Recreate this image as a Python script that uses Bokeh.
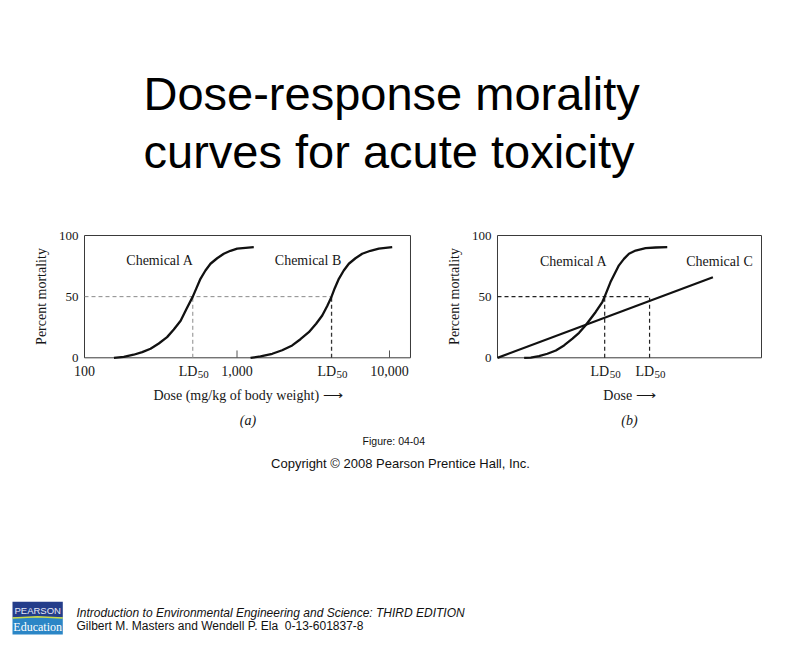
from bokeh.plotting import figure
from bokeh.layouts import column, row
from bokeh.models import Range1d, FixedTicker, LinearAxis
from bokeh.core.properties import value
from bokeh.embed import file_html
from bokeh.resources import INLINE

# ---------------- data ----------------
# panel (a): log dose axis (mg/kg of body weight)
dose_a = [156, 181, 210, 239, 271, 307, 348, 385, 427, 467, 513, 543, 576, 621, 670,
          741, 819, 906, 1003, 1137, 1288]
mort_a = [0, 0.8, 2.5, 4.6, 7.4, 11.7, 16.9, 23.1, 30.3, 40.1, 50, 57.2, 64.6, 71.4, 76.9,
          81.4, 85.1, 87.5, 89.2, 89.9, 90.5]
dose_b = [1227, 1426, 1703, 1977, 2302, 2606, 2958, 3302, 3622, 3898, 4169, 4375, 4655,
          5012, 5411, 5982, 6622, 7500, 8511, 9409, 10418]
mort_b = [0, 1.1, 3.3, 6.2, 10.1, 15.2, 20.9, 27.8, 34.6, 42.2, 50, 56.9, 64.6,
          71.4, 76.9, 81.4, 85.1, 87.5, 89.2, 89.9, 90.5]
ld50_a = 513
ld50_b = 4169
ticks_a = [100, 1000, 10000]
tick_labels_a = ["100", "1,000", "10,000"]
dose_limits_a = [100, 13729]          # plotted dose range of panel (a)
y_ticks = [0, 50, 100]
y_tick_labels = ["0", "50", "100"]
mort_limits = [0, 100]

# panel (b): linear dose axis (arbitrary units)
dose_a2 = [10.1, 12.6, 15.7, 18.9, 22.1, 25.2, 28.4, 30.9, 33.4, 37.2, 39.7, 40.6, 42.8,
           46.0, 47.9, 49.8, 52.3, 56.1, 59.9, 64.3]
mort_a2 = [0, 0.2, 1.3, 3.3, 6.0, 10.1, 15.6, 20.4, 26.6, 37.5, 45.6, 50, 61.9,
           75.6, 80.9, 85.1, 87.7, 89.7, 90.2, 90.5]
dose_c = [0, 81.6]
mort_c = [0, 65.9]
ld50_a2 = 40.6
ld50_c = 57.6
dose_limits_b = [0, 100]

SERIF = "Liberation Serif"
SANS = "Liberation Sans"
INK = "#161616"
BOX = "#3a3a3a"

# vertical layout of the chart frames: box 0..100 spans 122.3 px
PX_PER_PCT = 1.223
Y_LO = -26.7 / PX_PER_PCT     # room for the dose tick labels under the box
Y_HI = 100 + 27 / PX_PER_PCT  # symmetric room above, keeps the y label centred


def style_chart(p, x0, x1, pad_left):
    p.xgrid.visible = False
    p.ygrid.visible = False
    p.outline_line_color = None
    p.background_fill_color = "white"
    p.border_fill_color = "white"
    # the box around the data area
    p.line([x0, x1, x1, x0, x0],
           [mort_limits[0], mort_limits[0], mort_limits[1], mort_limits[1], mort_limits[0]],
           line_color=BOX, line_width=1, line_join="miter")
    ya = p.yaxis[0]
    ya.ticker = FixedTicker(ticks=y_ticks)
    ya.major_label_overrides = {t: l for t, l in zip(y_ticks, y_tick_labels)}
    ya.major_tick_in = 0
    ya.major_tick_out = 0
    ya.minor_tick_line_color = None
    ya.axis_line_color = None
    ya.major_label_text_font = SERIF
    ya.major_label_text_font_size = "13px"
    ya.major_label_text_color = INK
    ya.major_label_standoff = 6 - pad_left
    ya.axis_label = "Percent mortality"
    ya.axis_label_text_font = SERIF
    ya.axis_label_text_font_size = "14px"
    ya.axis_label_text_font_style = "normal"
    ya.axis_label_text_color = INK
    ya.axis_label_standoff = 7
    xa = p.xaxis[0]
    xa.ticker = FixedTicker(ticks=[])
    xa.major_tick_in = 0
    xa.major_tick_out = 0
    xa.major_label_standoff = 0
    xa.minor_tick_line_color = None
    xa.axis_line_color = None
    xa.axis_label_text_font = SERIF
    xa.axis_label_text_font_size = "14px"
    xa.axis_label_text_font_style = "normal"
    xa.axis_label_text_color = INK
    xa.axis_label_standoff = 3


def sub_axis(p, text):
    ax = LinearAxis(ticker=FixedTicker(ticks=[]), axis_label=text)
    ax.axis_line_color = None
    ax.major_tick_line_color = None
    ax.minor_tick_line_color = None
    ax.major_label_standoff = 0
    ax.major_tick_out = 0
    ax.major_tick_in = 0
    ax.axis_label_text_font = SERIF
    ax.axis_label_text_font_size = "14px"
    ax.axis_label_text_font_style = "italic"
    ax.axis_label_text_color = INK
    ax.axis_label_standoff = 7
    p.add_layout(ax, "below")


def ld_labels(p, xs):
    p.text(x=xs, y=[-11] * len(xs), text=["LD"] * len(xs), text_align="right",
           text_baseline="middle", x_offset=4.5, text_font=value(SERIF),
           text_font_size="14px", text_color=INK)
    p.text(x=xs, y=[-13.9] * len(xs), text=["50"] * len(xs), text_align="left",
           text_baseline="middle", x_offset=5, text_font=value(SERIF),
           text_font_size="11px", text_color=INK)


# ---------------- title ----------------
pt = figure(width=793, height=208, x_range=Range1d(0, 793), y_range=Range1d(208, 0),
            output_backend="svg", toolbar_location=None, min_border=0, title=None,
            x_axis_location=None, y_axis_location=None)
pt.grid.visible = False
pt.outline_line_color = None
pt.text(x=[143, 143], y=[93.4, 150.7],
        text=["Dose-response morality", "curves for acute toxicity"],
        text_font=value(SANS), text_font_size="47px", text_baseline="middle",
        text_align="left", text_color="#000000")

# ---------------- panel (a) ----------------
px_per_decade = 152.5
pad_a = 13   # px of frame each side of the box, so the "100" label is not clipped
box_px_a = 327
pa = figure(width=428, height=225, x_axis_type="log",
            x_range=Range1d(100 * 10 ** (-pad_a / px_per_decade),
                            100 * 10 ** ((box_px_a + pad_a) / px_per_decade)),
            y_range=Range1d(Y_LO, Y_HI), title=None,
            output_backend="svg", toolbar_location=None,
            min_border_left=84 - pad_a, min_border_right=428 - (84 - pad_a) - (box_px_a + 2 * pad_a),
            min_border_top=0, min_border_bottom=49)
style_chart(pa, dose_limits_a[0], dose_limits_a[1], pad_a)
pa.xaxis[0].axis_label = "Dose (mg/kg of body weight) \u27f6"
sub_axis(pa, "(a)")

pa.segment(x0=ticks_a[1:], y0=[0, 0], x1=ticks_a[1:], y1=[6, 6], line_color="#555555", line_width=1)
pa.text(x=ticks_a, y=[-10.4] * len(ticks_a), text=tick_labels_a, text_align="center",
        text_baseline="middle", text_font=value(SERIF), text_font_size="14px", text_color=INK)
ld_labels(pa, [ld50_a, ld50_b])
pa.line([dose_limits_a[0], ld50_b], [50, 50], line_dash="4 3", line_color="#8a8a8a", line_width=1)
pa.line([ld50_a, ld50_a], [0, 50], line_dash="4 3", line_color="#8a8a8a", line_width=1)
pa.line([ld50_b, ld50_b], [0, 50], line_dash="4 3", line_color="#333333", line_width=1.3)
pa.line(dose_a, mort_a, line_color="#111111", line_width=2.3, line_join="round")
pa.line(dose_b, mort_b, line_color="#111111", line_width=2.3, line_join="round")
pa.text(x=[188, 1770], y=[79.6, 79.6], text=["Chemical A", "Chemical B"],
        text_font=value(SERIF), text_font_size="14px", text_baseline="middle",
        text_align="left", text_color=INK)

# ---------------- panel (b) ----------------
u_per_px = 100 / 264.3
pb = figure(width=365, height=225, x_range=Range1d(-u_per_px, 100 + u_per_px),
            y_range=Range1d(Y_LO, Y_HI), title=None,
            output_backend="svg", toolbar_location=None,
            min_border_left=68, min_border_right=31, min_border_top=0, min_border_bottom=49)
style_chart(pb, dose_limits_b[0], dose_limits_b[1], 1)
pb.xaxis[0].axis_label = "Dose \u27f6"
sub_axis(pb, "(b)")
ld_labels(pb, [ld50_a2, ld50_c])

pb.line([dose_limits_b[0], ld50_c], [50, 50], line_dash="4 3", line_color="#222222", line_width=1.2)
pb.line([ld50_a2, ld50_a2], [0, 50], line_dash="4 3", line_color="#222222", line_width=1.2)
pb.line([ld50_c, ld50_c], [0, 50], line_dash="4 3", line_color="#222222", line_width=1.2)
pb.line(dose_c, mort_c, line_color="#111111", line_width=2.3)
pb.line(dose_a2, mort_a2, line_color="#111111", line_width=2.3, line_join="round")
pb.text(x=[16.1, 71.5], y=[78.7, 78.7], text=["Chemical A", "Chemical C"],
        text_font=value(SERIF), text_font_size="14px", text_baseline="middle",
        text_align="left", text_color=INK)

# ---------------- bottom: caption, footer, logo ----------------
pf = figure(width=793, height=215, x_range=Range1d(0, 793), y_range=Range1d(215, 0),
            output_backend="svg", toolbar_location=None, min_border=0, title=None,
            x_axis_location=None, y_axis_location=None)
pf.grid.visible = False
pf.outline_line_color = None
pf.text(x=[393.3], y=[7.3], text=["Figure: 04-04"], text_font=value(SANS),
        text_font_size="10.5px", text_align="center", text_baseline="middle", text_color="#111111")
pf.text(x=[400], y=[30.3], text=["Copyright \u00a9 2008 Pearson Prentice Hall, Inc."],
        text_font=value(SANS), text_font_size="13px", text_align="center",
        text_baseline="middle", text_color="#111111")
# logo
pf.quad(left=[12], right=[62.3], top=[168.3], bottom=[184], fill_color="#243d8a", line_color=None)
pf.quad(left=[12], right=[62.3], top=[184], bottom=[201], fill_color="#2b86c6", line_color=None)
pf.line([12, 37, 62.3], [184.5, 183.2, 184.5], line_color="#c9da4a", line_width=1.5)
pf.text(x=[37.2], y=[176.5], text=["PEARSON"], text_font=value(SANS), text_font_size="9.5px",
        text_align="center", text_baseline="middle", text_color="#e4e8f8")
pf.text(x=[37.2], y=[193], text=["Education"], text_font=value(SERIF), text_font_size="12px",
        text_align="center", text_baseline="middle", text_color="#ffffff")
pf.text(x=[76], y=[179.7],
        text=["Introduction to Environmental Engineering and Science: THIRD EDITION"],
        text_font=value(SANS), text_font_size="12px", text_font_style="italic",
        text_align="left", text_baseline="middle", text_color="#111111")
pf.text(x=[76], y=[192.5], text=["Gilbert M. Masters and Wendell P. Ela\u00a0 0-13-601837-8"],
        text_font=value(SANS), text_font_size="12px", text_align="left",
        text_baseline="middle", text_color="#111111")

layout = column(pt, row(pa, pb), pf)
open("out.html", "w").write(file_html(layout, INLINE))
